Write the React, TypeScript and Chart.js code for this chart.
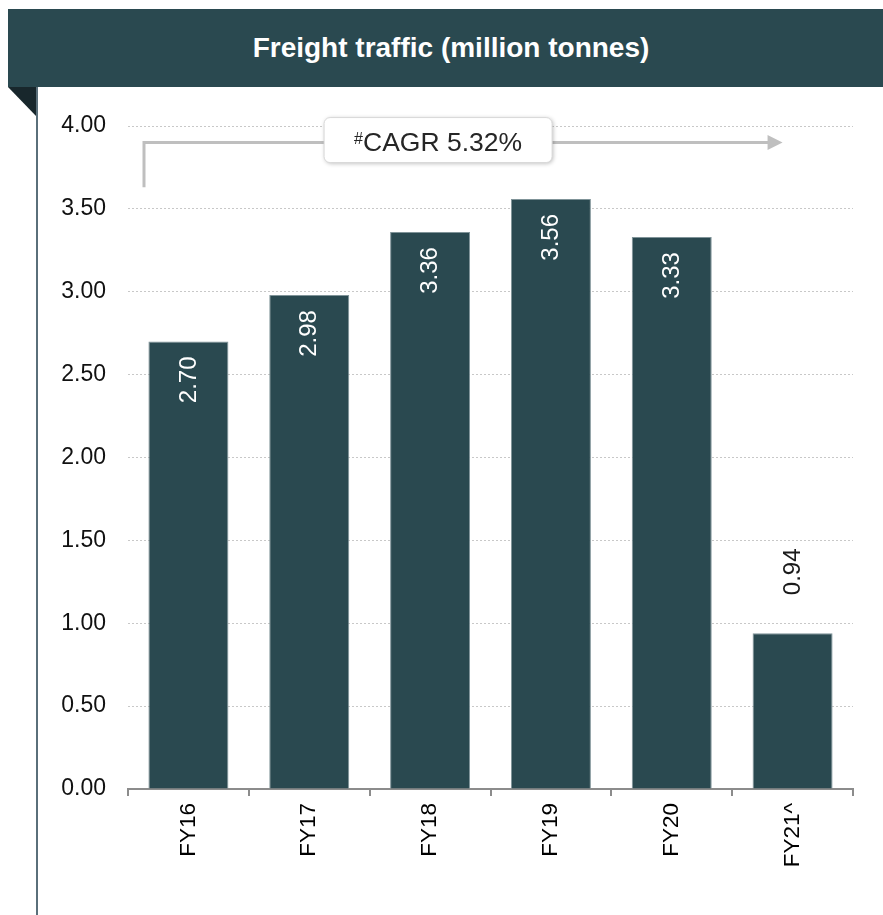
import React, { useEffect, useRef } from "react";
import { Chart, registerables } from "chart.js";

Chart.register(...registerables);

const FONT = "'Liberation Sans', Arial, Helvetica, sans-serif";

const title = "Freight traffic (million tonnes)";
const categories = ["FY16", "FY17", "FY18", "FY19", "FY20", "FY21^"];
const traffic = [2.7, 2.98, 3.36, 3.56, 3.33, 0.94];
const yMin = 0;
const yMax = 4;
const yStep = 0.5;
const cagrPrefix = "#";
const cagrText = "CAGR 5.32%";
const cagrArrowFrom = 3.63;
const cagrArrowLevel = 3.9;

const BAR = "#2a4950";

const valueLabels = {
  id: "valueLabels",
  afterDatasetsDraw(chart: any) {
    const ctx = chart.ctx;
    const meta = chart.getDatasetMeta(0);
    meta.data.forEach((bar: any, i: number) => {
      const v = traffic[i];
      const txt = v.toFixed(2);
      ctx.save();
      ctx.font = `24px ${FONT}`;
      ctx.textBaseline = "middle";
      const inside = v > 1.5;
      if (inside) {
        ctx.translate(bar.x + 0.5, bar.y + 15);
        ctx.rotate(-Math.PI / 2);
        ctx.textAlign = "right";
        ctx.fillStyle = "#ffffff";
      } else {
        ctx.translate(bar.x + 0.5, bar.y - 38);
        ctx.rotate(-Math.PI / 2);
        ctx.textAlign = "left";
        ctx.fillStyle = "#1a1a1a";
      }
      ctx.fillText(txt, 0, 0);
      ctx.restore();
    });
  },
};

const cagrArrow = {
  id: "cagrArrow",
  afterDraw(chart: any) {
    const ctx = chart.ctx;
    const x = chart.scales.x;
    const y = chart.scales.y;
    const x0 = x.left + 16;
    const yBottom = y.getPixelForValue(cagrArrowFrom);
    const yTop = y.getPixelForValue(cagrArrowLevel);
    const tip = x.getPixelForValue(categories.length - 1) - 10;
    ctx.save();
    ctx.strokeStyle = "#bfbfbf";
    ctx.lineWidth = 3;
    ctx.beginPath();
    ctx.moveTo(x0, yBottom);
    ctx.lineTo(x0, yTop);
    ctx.lineTo(tip - 14, yTop);
    ctx.stroke();
    ctx.fillStyle = "#bfbfbf";
    ctx.beginPath();
    ctx.moveTo(tip - 15, yTop - 7.5);
    ctx.lineTo(tip, yTop);
    ctx.lineTo(tip - 15, yTop + 7.5);
    ctx.closePath();
    ctx.fill();

    // label box
    const cx = x.getPixelForValue(2) + 8;
    const cy = yTop - 2.5;
    const w = 228;
    const h = 45;
    const r = 6;
    ctx.shadowColor = "rgba(0,0,0,0.28)";
    ctx.shadowBlur = 4;
    ctx.shadowOffsetX = 1;
    ctx.shadowOffsetY = 1;
    ctx.fillStyle = "#ffffff";
    ctx.beginPath();
    ctx.roundRect(cx - w / 2, cy - h / 2, w, h, r);
    ctx.fill();
    ctx.shadowColor = "transparent";
    ctx.strokeStyle = "#d9d9d9";
    ctx.lineWidth = 1;
    ctx.stroke();

    ctx.fillStyle = "#262626";
    ctx.textBaseline = "alphabetic";
    ctx.textAlign = "left";
    ctx.font = `16px ${FONT}`;
    const pw = ctx.measureText(cagrPrefix).width;
    ctx.font = `26.5px ${FONT}`;
    const mw = ctx.measureText(cagrText).width;
    const start = cx - (pw + mw) / 2;
    ctx.font = `16px ${FONT}`;
    ctx.fillText(cagrPrefix, start, cy + 4);
    ctx.font = `26.5px ${FONT}`;
    ctx.fillText(cagrText, start + pw, cy + 11);
    ctx.restore();
  },
};

export default function App() {
  const ref = useRef<HTMLCanvasElement>(null);

  useEffect(() => {
    if (!ref.current) return;
    const chart = new Chart(ref.current, {
      type: "bar",
      data: {
        labels: categories,
        datasets: [
          {
            data: traffic,
            backgroundColor: BAR,
            borderColor: "#7f9398",
            borderWidth: 1,
            categoryPercentage: 1,
            barPercentage: 0.662,
          },
        ],
      },
      plugins: [valueLabels, cagrArrow],
      options: {
        responsive: false,
        animation: false,
        devicePixelRatio: 1,
        layout: { padding: { top: 126, right: 30, left: 0, bottom: 0 } },
        plugins: {
          legend: { display: false },
          tooltip: { enabled: false },
          title: { display: false },
        },
        scales: {
          x: {
            grid: {
              display: true,
              drawOnChartArea: false,
              drawTicks: true,
              tickLength: 7,
              color: "#8c8c8c",
              lineWidth: 2,
              offset: true,
            },
            border: { display: true, color: "#8c8c8c", width: 2 },
            ticks: {
              minRotation: 90,
              maxRotation: 90,
              padding: 7,
              color: "#000000",
              font: { family: FONT, size: 22.5 },
            },
            afterFit: (s: any) => {
              s.height = 126;
            },
          },
          y: {
            min: yMin,
            max: yMax,
            grid: {
              color: "#c8c8c8",
              lineWidth: 1,
              drawTicks: false,
            },
            border: { display: false, dash: [2, 2] },
            ticks: {
              stepSize: yStep,
              padding: 22,
              color: "#111111",
              font: { family: FONT, size: 23 },
              callback: (v: any) => Number(v).toFixed(2),
            },
            afterFit: (s: any) => {
              s.width = 128;
            },
          },
        },
      },
    });
    return () => chart.destroy();
  }, []);

  return (
    <div
      style={{
        position: "absolute",
        left: 0,
        top: 0,
        width: 883,
        height: 915,
        background: "#ffffff",
        overflow: "hidden",
      }}
    >
      <canvas
        ref={ref}
        width={883}
        height={915}
        style={{ position: "absolute", left: 0, top: 0, width: 883, height: 915 }}
      />
      <div
        style={{
          position: "absolute",
          left: 8,
          top: 9,
          width: 875,
          height: 78,
          boxSizing: "border-box",
          paddingLeft: 11,
          background: BAR,
          color: "#ffffff",
          fontFamily: FONT,
          fontWeight: "bold",
          fontSize: 28,
          display: "flex",
          alignItems: "center",
          justifyContent: "center",
        }}
      >
        {title}
      </div>
      <div
        style={{
          position: "absolute",
          left: 8,
          top: 87,
          width: 28,
          height: 29,
          background: "#18272c",
          clipPath: "polygon(0 0, 100% 0, 100% 100%)",
        }}
      />
      <div
        style={{
          position: "absolute",
          left: 36,
          top: 87,
          width: 2,
          height: 828,
          background: "#5a6f7a",
        }}
      />
    </div>
  );
}
